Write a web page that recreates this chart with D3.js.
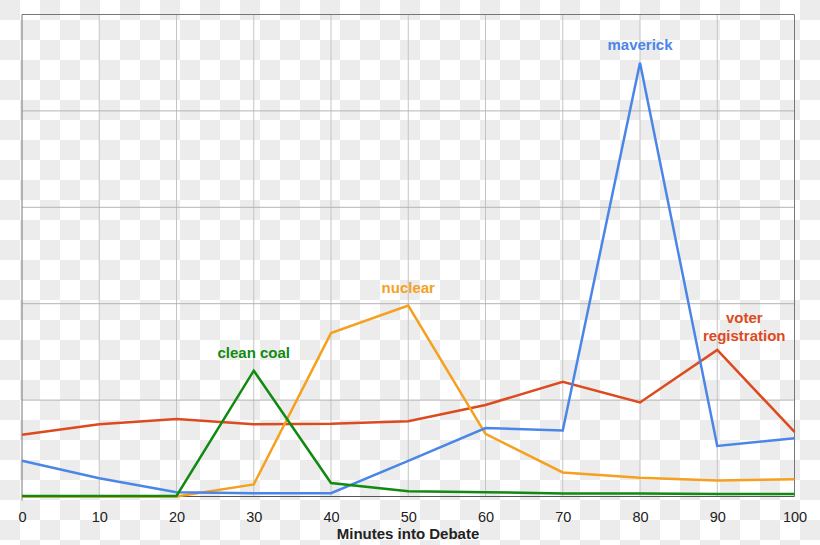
<!DOCTYPE html>
<html><head><meta charset="utf-8">
<script src="https://cdn.jsdelivr.net/npm/d3@7/dist/d3.min.js"></script>
<style>html,body{margin:0;padding:0;background:#fff;}svg{display:block;}</style>
</head><body><svg id="c" width="820" height="545"></svg>
<script>
const minutes = [0,10,20,30,40,50,60,70,80,90,100];
const maverick = [7.4,3.8,0.9,0.7,0.7,7.4,14.2,13.7,90.0,10.5,12.1];
const voterRegistration = [12.8,15.0,16.1,15.0,15.1,15.6,19.0,23.8,19.5,30.4,13.4];
const nuclear = [0,0,0,2.5,33.9,39.6,13.0,5.0,3.9,3.3,3.6];
const cleanCoal = [0.1,0.1,0.1,26.1,2.8,1.1,0.9,0.6,0.6,0.5,0.5];
const xTicks = [0,10,20,30,40,50,60,70,80,90,100];
const yTicks = [0,20,40,60,80,100];

const series = [
  {name:"voter registration", lines:["voter","registration"], values:voterRegistration, color:"#dc4a1e", lx:90, ly:[323,341]},
  {name:"nuclear", lines:["nuclear"], values:nuclear, color:"#f5a01f", lx:50, ly:[293]},
  {name:"maverick", lines:["maverick"], values:maverick, color:"#4a86e8", lx:80, ly:[50]},
  {name:"clean coal", lines:["clean coal"], values:cleanCoal, color:"#118a11", lx:30, ly:[358]}
];

const svg = d3.select("#c");
const defs = svg.append("defs");
const pat = defs.append("pattern").attr("id","chk").attr("width",40).attr("height",40).attr("patternUnits","userSpaceOnUse");
pat.append("rect").attr("width",40).attr("height",40).attr("fill","#ffffff");
pat.append("rect").attr("x",0).attr("y",0).attr("width",20).attr("height",20).attr("fill","#ececec");
pat.append("rect").attr("x",20).attr("y",20).attr("width",20).attr("height",20).attr("fill","#ececec");
svg.append("rect").attr("width",820).attr("height",545).attr("fill","url(#chk)");

const x = d3.scaleLinear().domain([0,100]).range([22,794.5]);
const y = d3.scaleLinear().domain([0,100]).range([496.5,14.5]);

// grid
const g = svg.append("g");
g.selectAll(".vg").data(xTicks.slice(1,-1)).join("line")
  .attr("x1",d=>x(d)).attr("x2",d=>x(d)).attr("y1",y(100)).attr("y2",y(0))
  .attr("stroke","#c4c4c4").attr("stroke-width",1);
g.selectAll(".hg").data(yTicks.slice(1,-1)).join("line")
  .attr("x1",x(0)).attr("x2",x(100)).attr("y1",d=>y(d)).attr("y2",d=>y(d))
  .attr("stroke","#b4b4b4").attr("stroke-width",1);
// frame
g.append("line").attr("x1",x(0)).attr("x2",x(100)).attr("y1",y(100)).attr("y2",y(100)).attr("stroke","#777");
g.append("line").attr("x1",x(100)).attr("x2",x(100)).attr("y1",y(100)).attr("y2",y(0)).attr("stroke","#777");
g.append("line").attr("x1",x(0)).attr("x2",x(0)).attr("y1",y(100)).attr("y2",y(0)+4).attr("stroke","#777");
g.append("line").attr("x1",x(0)).attr("x2",x(100)).attr("y1",y(0)).attr("y2",y(0)).attr("stroke","#555");

// x axis labels
const xAxis = d3.axisBottom(x).tickValues(xTicks).tickSize(0).tickPadding(0).tickFormat(d3.format("d"));
const ax = svg.append("g").attr("transform",`translate(0,${y(0)})`).call(xAxis);
ax.select(".domain").remove();
ax.selectAll("text").attr("dy",null).attr("y",25.5).attr("font-family","Liberation Sans, Arial, sans-serif")
  .attr("font-size",14.5).attr("fill","#222");

svg.append("text").attr("x",408).attr("y",539).attr("text-anchor","middle")
  .attr("font-family","Liberation Sans, Arial, sans-serif").attr("font-size",15).attr("font-weight","bold")
  .attr("fill","#222").text("Minutes into Debate");

// lines
const line = d3.line().x((d,i)=>x(minutes[i])).y(d=>y(d));
series.forEach(s=>{
  svg.append("path").datum(s.values).attr("d",line).attr("fill","none")
    .attr("stroke",s.color).attr("stroke-width",2.5).attr("stroke-linejoin","miter");
});
// labels
series.forEach(s=>{
  const t = svg.append("text").attr("text-anchor","middle")
    .attr("font-family","Liberation Sans, Arial, sans-serif").attr("font-size",15).attr("font-weight","bold")
    .attr("fill",s.color);
  s.lines.forEach((l,i)=>{
    t.append("tspan").attr("x", x(s.lx) + (s.name==="voter registration"?27:0)).attr("y",s.ly[i]).text(l);
  });
});
</script></body></html>
